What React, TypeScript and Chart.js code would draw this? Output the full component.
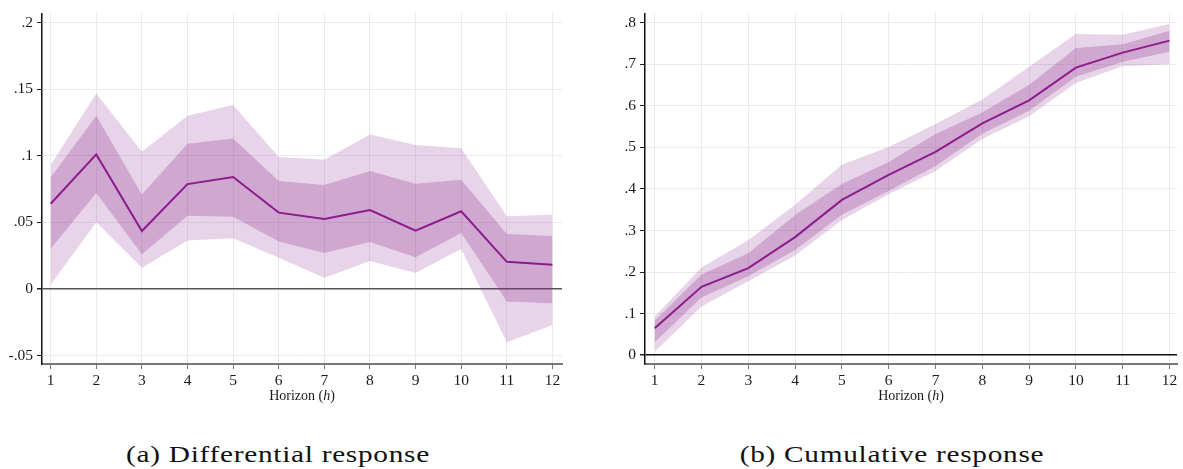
import React, { useEffect, useRef } from "react";
import { Chart, registerables } from "chart.js";

Chart.register(...registerables);

// ---------- data ----------
const horizons = [1, 2, 3, 4, 5, 6, 7, 8, 9, 10, 11, 12];
const xTickLabels = ["1", "2", "3", "4", "5", "6", "7", "8", "9", "10", "11", "12"];

// (a) Differential response
const diffPoint = [0.064, 0.101, 0.0435, 0.0787, 0.084, 0.0573, 0.0526, 0.0593, 0.0438, 0.0583, 0.0204, 0.0182];
const diffInnerUp = [0.0836, 0.13, 0.071, 0.109, 0.113, 0.081, 0.078, 0.0885, 0.079, 0.082, 0.0413, 0.0398];
const diffInnerLo = [0.0302, 0.072, 0.026, 0.0549, 0.0543, 0.0357, 0.027, 0.0352, 0.0239, 0.042, -0.0093, -0.0108];
const diffOuterUp = [0.093, 0.1468, 0.103, 0.13, 0.138, 0.099, 0.097, 0.116, 0.108, 0.1057, 0.0546, 0.0558];
const diffOuterLo = [0.0032, 0.05, 0.016, 0.0364, 0.038, 0.0234, 0.0084, 0.021, 0.012, 0.03, -0.04, -0.027];
const diffYTicks = [-0.05, 0, 0.05, 0.1, 0.15, 0.2];
const diffYLabels = ["-.05", "0", ".05", ".1", ".15", ".2"];

// (b) Cumulative response
const cumPoint = [0.0645, 0.1645, 0.2095, 0.284, 0.3735, 0.434, 0.489, 0.558, 0.613, 0.692, 0.728, 0.757];
const cumInnerUp = [0.083, 0.194, 0.245, 0.337, 0.412, 0.465, 0.532, 0.584, 0.651, 0.739, 0.748, 0.781];
const cumInnerLo = [0.031, 0.1385, 0.19, 0.253, 0.338, 0.395, 0.455, 0.533, 0.588, 0.67, 0.706, 0.73];
const cumOuterUp = [0.093, 0.211, 0.2766, 0.362, 0.458, 0.501, 0.556, 0.615, 0.694, 0.773, 0.771, 0.797];
const cumOuterLo = [0.008, 0.117, 0.178, 0.24, 0.325, 0.387, 0.443, 0.52, 0.575, 0.655, 0.696, 0.7];
const cumYTicks = [0, 0.1, 0.2, 0.3, 0.4, 0.5, 0.6, 0.7, 0.8];
const cumYLabels = ["0", ".1", ".2", ".3", ".4", ".5", ".6", ".7", ".8"];

// ---------- styles ----------
const LINE = "#8c1c8c";
const OUTER_FILL = "rgba(140,40,140,0.2)";
const INNER_FILL = "rgba(140,40,140,0.26)";
const GRID = "#ebebeb";
const FONT = "'Liberation Serif', 'Times New Roman', serif";

type PanelProps = {
  left: number;
  width: number;
  height: number;
  yAxisWidth: number;
  padRight: number;
  padTop: number;
  xAxisHeight: number;
  xMin: number;
  xMax: number;
  yMin: number;
  yMax: number;
  yTicks: number[];
  yLabels: string[];
  zeroColor: string;
  point: number[];
  innerUp: number[];
  innerLo: number[];
  outerUp: number[];
  outerLo: number[];
};

const toXY = (arr: number[]) => horizons.map((h, i) => ({ x: h, y: arr[i] }));

function Panel(p: PanelProps) {
  const ref = useRef<HTMLCanvasElement | null>(null);
  useEffect(() => {
    if (!ref.current) return;
    const base = { pointRadius: 0, pointHoverRadius: 0, borderWidth: 0, tension: 0 };
    const chart = new Chart(ref.current, {
      type: "line",
      data: {
        datasets: [
          { ...base, label: "outerLo", data: toXY(p.outerLo), fill: false, order: 4 },
          { ...base, label: "outerUp", data: toXY(p.outerUp), fill: "-1", backgroundColor: OUTER_FILL, order: 3 },
          { ...base, label: "innerLo", data: toXY(p.innerLo), fill: false, order: 2 },
          { ...base, label: "innerUp", data: toXY(p.innerUp), fill: "-1", backgroundColor: INNER_FILL, order: 1 },
          {
            ...base,
            label: "point",
            data: toXY(p.point),
            fill: false,
            borderColor: LINE,
            borderWidth: 2,
            order: 0,
          },
        ],
      },
      options: {
        responsive: false,
        animation: false,
        devicePixelRatio: 1,
        layout: { padding: { top: p.padTop, right: p.padRight, left: 0, bottom: 0 } },
        plugins: { legend: { display: false }, tooltip: { enabled: false } },
        scales: {
          x: {
            type: "linear",
            min: p.xMin,
            max: p.xMax,
            afterBuildTicks: (axis: any) => {
              axis.ticks = horizons.map((v) => ({ value: v }));
            },
            afterFit: (s: any) => {
              s.height = p.xAxisHeight;
            },
            ticks: {
              autoSkip: false,
              maxRotation: 0,
              padding: 3,
              color: "#1a1a1a",
              font: { family: FONT, size: 15.5 },
              callback: (_v: any, i: number) => xTickLabels[i],
            },
            grid: { color: GRID, lineWidth: 1, tickLength: 5, tickColor: "#777", drawTicks: true },
            border: { display: true, color: "#777", width: 2 },
          },
          y: {
            type: "linear",
            min: p.yMin,
            max: p.yMax,
            afterBuildTicks: (axis: any) => {
              axis.ticks = p.yTicks.map((v) => ({ value: v }));
            },
            afterFit: (s: any) => {
              s.width = p.yAxisWidth;
            },
            ticks: {
              padding: 4,
              color: "#1a1a1a",
              font: { family: FONT, size: 15.5 },
              callback: (_v: any, i: number) => p.yLabels[i],
            },
            grid: {
              color: (ctx: any) => (ctx.tick && ctx.tick.value === 0 ? p.zeroColor : GRID),
              lineWidth: (ctx: any) => (ctx.tick && ctx.tick.value === 0 ? 1.5 : 1),
              tickLength: 5,
              tickColor: "#222",
              drawTicks: true,
            },
            border: { display: true, color: "#111", width: 1.5 },
          },
        },
      },
    } as any);
    return () => chart.destroy();
  }, []);
  return (
    <canvas
      ref={ref}
      width={p.width}
      height={p.height}
      style={{ position: "absolute", left: p.left, top: 0, width: p.width, height: p.height }}
    />
  );
}

const axisTitleStyle = (centerX: number): React.CSSProperties => ({
  position: "absolute",
  left: centerX - 100,
  width: 200,
  top: 389,
  lineHeight: "14px",
  fontSize: 14,
  fontFamily: FONT,
  color: "#1a1a1a",
  textAlign: "center",
  whiteSpace: "nowrap",
});

const captionStyle = (centerX: number): React.CSSProperties => ({
  position: "absolute",
  left: centerX - 200,
  width: 400,
  top: 442,
  lineHeight: "25px",
  fontSize: 24,
  letterSpacing: "0.6px",
  transform: "scaleX(1.22)",
  transformOrigin: "center",
  fontFamily: FONT,
  color: "#111",
  textAlign: "center",
  whiteSpace: "nowrap",
});

export default function App() {
  return (
    <div style={{ position: "absolute", left: 0, top: 0, width: 1183, height: 469, background: "#fff", overflow: "hidden" }}>
      <Panel
        left={0}
        width={575}
        height={400}
        yAxisWidth={42}
        padRight={13}
        padTop={7}
        xAxisHeight={36}
        xMin={0.81}
        xMax={12.21}
        yMin={-0.0563}
        yMax={0.2069}
        yTicks={diffYTicks}
        yLabels={diffYLabels}
        zeroColor="#555"
        point={diffPoint}
        innerUp={diffInnerUp}
        innerLo={diffInnerLo}
        outerUp={diffOuterUp}
        outerLo={diffOuterLo}
      />
      <Panel
        left={590}
        width={593}
        height={400}
        yAxisWidth={55}
        padRight={6}
        padTop={7}
        xAxisHeight={36}
        xMin={0.793}
        xMax={12.16}
        yMin={-0.0213}
        yMax={0.8227}
        yTicks={cumYTicks}
        yLabels={cumYLabels}
        zeroColor="#111"
        point={cumPoint}
        innerUp={cumInnerUp}
        innerLo={cumInnerLo}
        outerUp={cumOuterUp}
        outerLo={cumOuterLo}
      />
      <div style={axisTitleStyle(302)}>
        Horizon (<i>h</i>)
      </div>
      <div style={axisTitleStyle(911)}>
        Horizon (<i>h</i>)
      </div>
      <div style={captionStyle(278)}>(a) Differential response</div>
      <div style={captionStyle(892)}>(b) Cumulative response</div>
    </div>
  );
}
